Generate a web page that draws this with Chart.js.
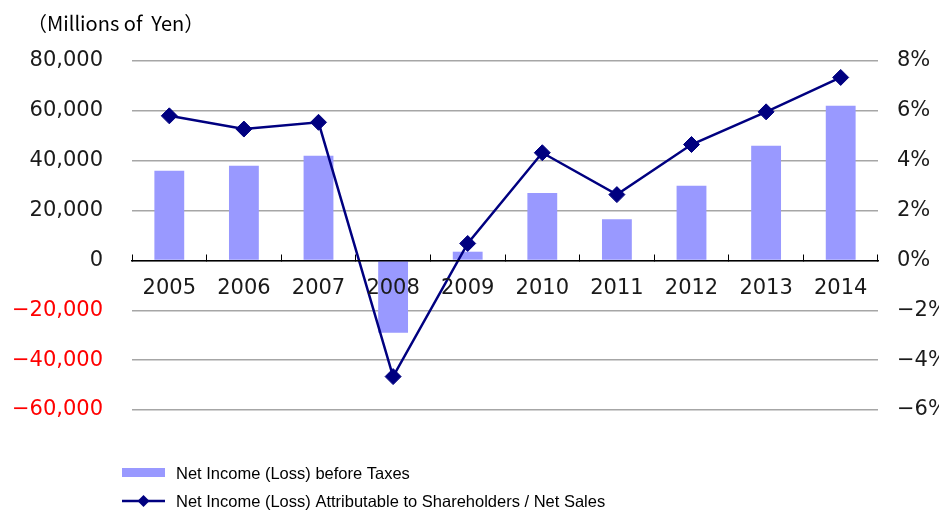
<!DOCTYPE html>
<html lang="en">
<head>
<meta charset="UTF-8" />
<title>Net Income (Loss)</title>
<script src="https://cdn.jsdelivr.net/npm/chart.js"></script>
<style>
  html, body { margin: 0; padding: 0; background: #fff; }
  .chart-container { width: 939px; height: 511px; }
</style>
</head>
<body>
<div class="chart-container"><canvas id="incomeChart"></canvas></div>
<script>
  const years = ['2005', '2006', '2007', '2008', '2009', '2010', '2011', '2012', '2013', '2014'];
  const incomeBeforeTaxes = [36000, 38000, 42000, -29000, 3500, 27000, 16500, 30000, 46000, 62000];
  const incomeRatio = [5.8, 5.27, 5.54, -4.66, 0.68, 4.32, 2.64, 4.65, 5.96, 7.34];
  const yenTicks = [-60000, -40000, -20000, 0, 20000, 40000, 60000, 80000];
  const ratioTicks = [-6, -4, -2, 0, 2, 4, 6, 8];

  const barLabel = 'Net Income (Loss) before Taxes';
  const lineLabel = 'Net Income (Loss) Attributable to Shareholders / Net Sales';
  const unitText = '（Millions of  Yen）';

  const tickFont = { family: 'DejaVu Sans', size: 21 };

  function fmtYen(v) {
    const s = Math.abs(v).toLocaleString('en-US');
    return v < 0 ? '\u2212' + s : s;
  }
  function fmtPct(v) {
    return (v < 0 ? '\u2212' + Math.abs(v) : v) + '%';
  }

  // unit caption + legend drawn by hand: two rows, left aligned
  const extras = {
    id: 'extras',
    afterDraw(chart) {
      const ctx = chart.ctx;
      const sets = chart.data.datasets;
      ctx.save();
      ctx.textBaseline = 'middle';

      ctx.fillStyle = '#000';
      ctx.font = '20px "Noto Sans CJK JP", sans-serif';
      ctx.fillText(unitText, 27, 23);

      ctx.font = '16.5px "Liberation Sans", Arial, sans-serif';

      // bar item
      ctx.fillStyle = sets[0].backgroundColor;
      ctx.fillRect(122, 468, 43, 9);
      ctx.fillStyle = '#000';
      ctx.fillText(sets[0].label, 176, 474);

      // line item
      ctx.strokeStyle = sets[1].borderColor;
      ctx.lineWidth = 2.5;
      ctx.beginPath();
      ctx.moveTo(122, 501);
      ctx.lineTo(165, 501);
      ctx.stroke();
      ctx.fillStyle = sets[1].pointBackgroundColor;
      ctx.beginPath();
      ctx.moveTo(137.5, 501);
      ctx.lineTo(143.5, 495);
      ctx.lineTo(149.5, 501);
      ctx.lineTo(143.5, 507);
      ctx.closePath();
      ctx.fill();
      ctx.fillStyle = '#000';
      ctx.fillText(sets[1].label, 176, 502);
      ctx.restore();
    }
  };

  const ctx = document.getElementById('incomeChart').getContext('2d');
  const chart = new Chart(ctx, {
    type: 'bar',
    data: {
      labels: years,
      datasets: [
        {
          type: 'bar',
          label: barLabel,
          data: incomeBeforeTaxes,
          backgroundColor: '#9999ff',
          barPercentage: 0.4,
          categoryPercentage: 1,
          yAxisID: 'y',
          order: 1
        },
        {
          type: 'line',
          label: lineLabel,
          data: incomeRatio,
          borderColor: '#000080',
          borderWidth: 2.5,
          pointStyle: 'rectRot',
          pointRadius: 8,
          pointBackgroundColor: '#000080',
          pointBorderColor: '#000080',
          pointBorderWidth: 1,
          tension: 0,
          yAxisID: 'y1',
          order: 0
        }
      ]
    },
    options: {
      responsive: true,
      maintainAspectRatio: false,
      animation: false,
      layout: { padding: { left: 0, right: 0, top: 61, bottom: 101 } },
      plugins: {
        legend: { display: false },
        tooltip: { enabled: false },
        title: { display: false }
      },
      scales: {
        x: {
          position: { y: 0 },
          grid: {
            display: true,
            drawOnChartArea: false,
            drawTicks: true,
            tickLength: -7,
            color: '#000',
            lineWidth: 1,
            offset: true,
            z: 1
          },
          border: { display: true, color: '#000', width: 1.5, z: 1 },
          ticks: { color: '#1a1a1a', font: tickFont, padding: 23, maxRotation: 0, z: 1 }
        },
        y: {
          position: 'left',
          min: yenTicks[0],
          max: yenTicks[yenTicks.length - 1],
          afterFit: s => { s.width = 132; },
          afterBuildTicks: s => { s.ticks = yenTicks.map(v => ({ value: v })); },
          grid: { color: '#a6a6a6', lineWidth: 1.5, drawTicks: false },
          border: { display: false },
          ticks: {
            font: tickFont,
            padding: 29,
            color: c => (c.tick.value < 0 ? '#ff0000' : '#1a1a1a'),
            callback: v => fmtYen(v)
          }
        },
        y1: {
          position: 'right',
          min: ratioTicks[0],
          max: ratioTicks[ratioTicks.length - 1],
          afterFit: s => { s.width = 61; },
          afterBuildTicks: s => { s.ticks = ratioTicks.map(v => ({ value: v })); },
          grid: { display: false, drawTicks: false },
          border: { display: false },
          ticks: {
            font: tickFont,
            padding: 19,
            color: '#1a1a1a',
            callback: v => fmtPct(v)
          }
        }
      }
    },
    plugins: [extras]
  });
</script>
</body>
</html>
